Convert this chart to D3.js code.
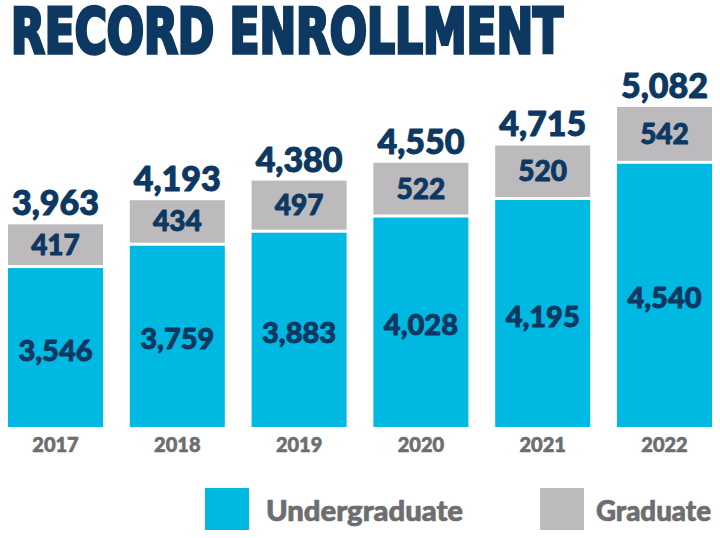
<!DOCTYPE html>
<html>
<head>
<meta charset="utf-8">
<script src="https://cdn.jsdelivr.net/npm/d3@7"></script>
<style>
  html, body { margin: 0; padding: 0; background: #fff; }
  svg { display: block; }
</style>
</head>
<body>
<svg id="chart" width="720" height="538"></svg>
<script>
const years = ["2017", "2018", "2019", "2020", "2021", "2022"];
const undergraduate = [3546, 3759, 3883, 4028, 4195, 4540];
const graduate = [417, 434, 497, 522, 520, 542];
const totals = [3963, 4193, 4380, 4550, 4715, 5082];
const seriesNames = ["Undergraduate", "Graduate"];
const title = "RECORD ENROLLMENT";

const colors = { Undergraduate: "#00b9e3", Graduate: "#bcbabd" };
const navy = "#0d3861";
const grayText = "#6d6e71";

const svg = d3.select("#chart");
const fmt = d3.format(",");

const x = d3.scaleBand().domain(years).range([8, 712]).paddingInner(0.22).paddingOuter(0);
const y = d3.scaleLinear().domain([2030, 5082]).range([427, 107]);

// Title
svg.append("text")
  .attr("x", 11).attr("y", 53)
  .attr("font-family", "'Liberation Sans Narrow', 'DejaVu Sans Condensed', sans-serif")
  .attr("font-weight", "bold")
  .attr("font-size", 63)
  .attr("fill", navy)
  .attr("stroke", navy)
  .attr("stroke-width", 3.4)
  .attr("stroke-linejoin", "miter")
  .attr("textLength", 552)
  .attr("lengthAdjust", "spacingAndGlyphs")
  .text(title);

const data = years.map((yr, i) => ({ year: yr, u: undergraduate[i], g: graduate[i], t: totals[i] }));
const gap = 3;

const g = svg.append("g");
const groups = g.selectAll("g.bar").data(data).join("g").attr("class", "bar");

// Undergraduate
groups.append("rect")
  .attr("x", d => x(d.year))
  .attr("width", x.bandwidth())
  .attr("y", d => y(d.u))
  .attr("height", d => y(y.domain()[0]) - y(d.u))
  .attr("fill", colors.Undergraduate);

// Graduate
groups.append("rect")
  .attr("x", d => x(d.year))
  .attr("width", x.bandwidth())
  .attr("y", d => y(d.t))
  .attr("height", d => y(d.u) - gap - y(d.t))
  .attr("fill", colors.Graduate);

const numFont = "Lato, 'Open Sans', sans-serif";

function heavy(sel, col, w) {
  sel.attr("font-family", numFont).attr("font-weight", 900)
    .attr("fill", col).attr("stroke", col).attr("stroke-width", w)
    .attr("stroke-linejoin", "round");
}

// Undergrad labels
groups.append("text")
  .attr("x", d => x(d.year) + x.bandwidth() / 2)
  .attr("y", d => (y(d.u) + y(y.domain()[0])) / 2 + 13)
  .attr("text-anchor", "middle")
  .attr("font-size", 29)
  .call(heavy, navy, 0.9)
  .text(d => fmt(d.u));

// Graduate labels
groups.append("text")
  .attr("x", d => x(d.year) + x.bandwidth() / 2)
  .attr("y", d => (y(d.t) + y(d.u) - gap) / 2 + 10)
  .attr("text-anchor", "middle")
  .attr("font-size", 28)
  .call(heavy, navy, 0.9)
  .text(d => fmt(d.g));

// Totals
groups.append("text")
  .attr("x", d => x(d.year) + x.bandwidth() / 2)
  .attr("y", d => y(d.t) - 9)
  .attr("text-anchor", "middle")
  .attr("font-size", 34)
  .call(heavy, navy, 1)
  .text(d => fmt(d.t));

// Year axis labels
const xAxis = d3.axisBottom(x).tickSize(0).tickPadding(0);
const ax = svg.append("g").attr("transform", "translate(0,452)").call(xAxis);
ax.select(".domain").remove();
ax.selectAll("text")
  .attr("dy", 0)
  .attr("y", 0)
  .attr("font-size", 20)
  .call(heavy, grayText, 0.6);

// Legend
const legendItems = [
  { name: seriesNames[0], sx: 205, tx: 266, len: 197 },
  { name: seriesNames[1], sx: 540, tx: 596, len: 115 }
];
const lg = svg.append("g");
legendItems.forEach(it => {
  lg.append("rect").attr("x", it.sx).attr("y", 488).attr("width", 44).attr("height", 42)
    .attr("fill", colors[it.name]);
  lg.append("text").attr("x", it.tx).attr("y", 521)
    .attr("font-size", 29)
    .attr("textLength", it.len)
    .attr("lengthAdjust", "spacingAndGlyphs")
    .call(heavy, grayText, 0.7)
    .text(it.name);
});
</script>
</body>
</html>
